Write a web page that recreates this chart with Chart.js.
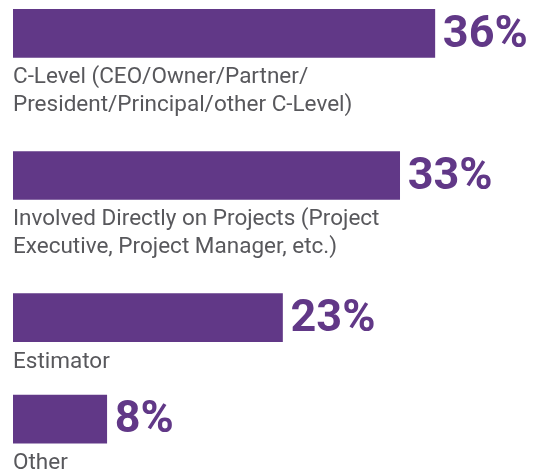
<!DOCTYPE html>
<html>
<head>
<meta charset="utf-8">
<script src="https://cdn.jsdelivr.net/npm/chart.js@4"></script>
<style>
    html, body { margin: 0; padding: 0; background: #ffffff; }
    #wrap { width: 552px; height: 472px; }
</style>
</head>
<body>
<div id="wrap"><canvas id="roleChart" width="552" height="472"></canvas></div>
<script>
// Data
const roleLabels = [
    ['C-Level (CEO/Owner/Partner/', 'President/Principal/other C-Level)'],
    ['Involved Directly on Projects (Project', 'Executive, Project Manager, etc.)'],
    ['Estimator'],
    ['Other']
];
const roleShares = [36, 33, 23, 8];

const purple = '#613887';
const textGrey = '#58585c';

// Each row takes room for the bar plus however many label lines it has
const rowSlots = [];
let slot = 0;
roleLabels.forEach(lines => {
    rowSlots.push(slot);
    slot += 1.5 + lines.length;
});

// Draw the category text under each bar and the big percentage to its right
const barTextPlugin = {
    id: 'barText',
    afterDatasetsDraw(chart) {
        const ctx = chart.ctx;
        const meta = chart.getDatasetMeta(0);
        ctx.save();
        meta.data.forEach((bar, i) => {
            const props = bar.getProps(['x', 'y', 'base', 'height'], true);
            const bottom = props.y + props.height / 2;

            // percentage
            ctx.fillStyle = purple;
            ctx.font = 'bold 45px Roboto';
            ctx.textAlign = 'left';
            ctx.textBaseline = 'middle';
            ctx.fillText(roleShares[i] + '%', props.x + 8, props.y + 2);

            // category text
            ctx.fillStyle = textGrey;
            ctx.font = '22.5px Roboto';
            ctx.textBaseline = 'alphabetic';
            roleLabels[i].forEach((line, k) => {
                ctx.fillText(line, props.base, bottom + 26 + k * 28);
            });
        });
        ctx.restore();
    }
};

new Chart(document.getElementById('roleChart'), {
    type: 'bar',
    data: {
        datasets: [{
            data: roleShares.map((v, i) => ({ x: v, y: rowSlots[i] })),
            backgroundColor: purple,
            borderWidth: 0,
            barThickness: 48
        }]
    },
    options: {
        indexAxis: 'y',
        responsive: false,
        devicePixelRatio: 1,
        animation: false,
        layout: { padding: { left: 13, right: 0, top: 0, bottom: 0 } },
        plugins: {
            legend: { display: false },
            tooltip: { enabled: false }
        },
        scales: {
            x: { type: 'linear', min: 0, max: 46, display: false },
            y: { type: 'linear', reverse: true, offset: false, min: -0.82, max: 10.8, display: false }
        }
    },
    plugins: [barTextPlugin]
});
</script>
</body>
</html>
